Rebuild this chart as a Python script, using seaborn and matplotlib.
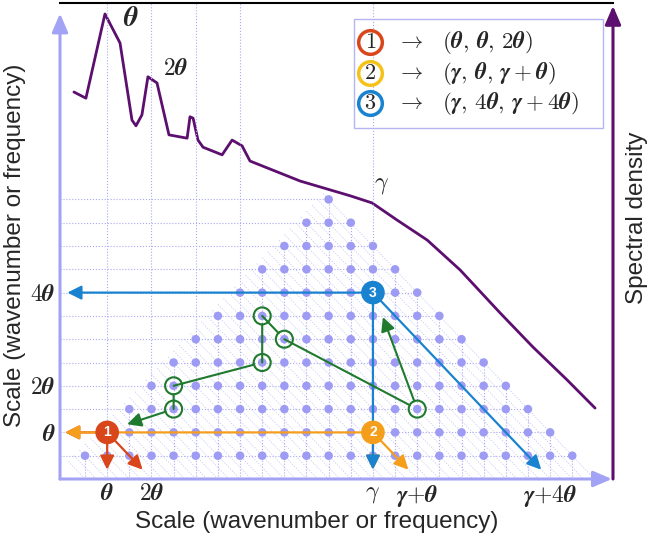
import numpy as np
import pandas as pd
import matplotlib
matplotlib.use("Agg")
import matplotlib.pyplot as plt
from matplotlib.patches import Rectangle
import seaborn as sns

# ---- values ----
# lattice of triads: row j carries dots in columns j .. apex - j
lattice_rows = list(range(1, 13))
lattice_apex = 24

# spectral density (x in scale units, y as fraction of the plot height)
spectrum_scale = [0.50, 1.04, 1.90, 2.58, 3.12, 3.30, 3.57, 3.84, 4.25, 4.79,
                  5.61, 5.74, 5.88, 6.10, 6.33, 7.19, 7.64, 8.09, 8.45, 10.71,
                  12.97, 13.96, 15.09, 16.45, 17.94, 19.74, 21.23, 22.77, 24.03]
spectrum_density = [0.813, 0.800, 0.977, 0.916, 0.754, 0.742, 0.765, 0.845, 0.832, 0.723,
                    0.716, 0.761, 0.758, 0.712, 0.697, 0.681, 0.712, 0.700, 0.668, 0.626,
                    0.595, 0.580, 0.544, 0.502, 0.439, 0.349, 0.277, 0.208, 0.149]

# numbered triads (column, row) and what they stand for
triad_ids = ["1", "2", "3"]
triad_cols = [2, 14, 14]
triad_rows = [2, 2, 8]
triad_colors = ["#d9461c", "#f59e1b", "#1a83d0"]
legend_colors = ["#d9461c", "#f5c21b", "#1a83d0"]
triad_tuples = [r"$(\boldsymbol{\theta},\, \boldsymbol{\theta},\, 2\boldsymbol{\theta})$",
                r"$(\boldsymbol{\gamma},\, \boldsymbol{\theta},\, \boldsymbol{\gamma} + \boldsymbol{\theta})$",
                r"$(\boldsymbol{\gamma},\, 4\boldsymbol{\theta},\, \boldsymbol{\gamma} + 4\boldsymbol{\theta})$"]

# green cascade path through the lattice
path_cols = [16, 10, 9, 9, 5, 5]
path_rows = [3, 6, 7, 5, 4, 3]
path_exit = (2.9, 2.35)
path_jump = (14.45, 6.95)

# tick labels
xtick_pos = [2, 4, 14, 16, 22]
xtick_labels = [r"$\boldsymbol{\theta}$", r"$2\boldsymbol{\theta}$", r"$\gamma$",
                r"$\boldsymbol{\gamma}{+}\boldsymbol{\theta}$", r"$\boldsymbol{\gamma}{+}4\boldsymbol{\theta}$"]
ytick_pos = [2, 4, 8]
ytick_labels = [r"$\boldsymbol{\theta}$", r"$2\boldsymbol{\theta}$", r"$4\boldsymbol{\theta}$"]

# colours
dot_color = "#9d9bf4"
grid_color = "#a9a9f0"
axis_color = "#a3a3f5"
curve_color = "#5c0f6e"
green = "#1f7a2e"

sns.set_theme(style="white")
plt.rcParams["font.family"] = ["Liberation Sans", "DejaVu Sans"]
plt.rcParams["mathtext.fontset"] = "cm"

W, H = 653, 538
fig = plt.figure(figsize=(W / 100, H / 100), dpi=100)
ax = fig.add_axes([60 / W, 59 / H, 553 / W, 476 / H])
ax.set_xlim(-0.13, 24.84)
ax.set_ylim(0, 20.43)
y_top = 20.43

# lattice guide lines
for j in lattice_rows:
    ax.plot([-0.13, lattice_apex - j], [j, j], ls=":", lw=0.8, color=grid_color, zorder=1)
for i in range(1, lattice_apex):
    top = y_top if i in (2, 4, 6, 8, 14) else min(i, lattice_apex - i)
    ax.plot([i, i], [0, top], ls=":", lw=0.8, color=grid_color, zorder=1)
for c in np.arange(1, lattice_apex + 0.01, 0.5):
    ax.plot([(c - 0.5) / 2, c], [(c + 0.5) / 2, 0], ls=(0, (2, 2)), lw=0.5,
            color="#c4c4f5", zorder=1)

lattice = pd.DataFrame([(i, j) for j in lattice_rows for i in range(j, lattice_apex - j + 1)],
                       columns=["scale", "row"])
sns.scatterplot(data=lattice, x="scale", y="row", s=38, color=dot_color,
                edgecolor="none", ax=ax, zorder=2)


def arrow(start, end, color, shrink=0, head=True, lw=1.6):
    style = "-|>,head_length=0.6,head_width=0.3" if head else "-"
    ax.annotate("", xy=end, xytext=start,
                arrowprops=dict(arrowstyle=style, color=color, lw=lw, mutation_scale=14,
                                shrinkA=shrink, shrinkB=0),
                zorder=3)


# triad interaction arrows: to the y axis, down, and along the diagonal
for c, r, col in zip(triad_cols, triad_rows, triad_colors):
    arrow((c, r), (0.1 if r < 8 else 0.2, r), col)
    arrow((c, r), (c, 0.4), col)
    arrow((c, r), (c + r - 0.4, 0.4), col)

# green cascade
for k in range(len(path_cols) - 1):
    arrow((path_cols[k], path_rows[k]), (path_cols[k + 1], path_rows[k + 1]), green,
          shrink=6, head=False, lw=1.5)
arrow((path_cols[-1], path_rows[-1]), path_exit, green, shrink=6, lw=1.5)
arrow((path_cols[0], path_rows[0]), path_jump, green, shrink=6, lw=1.5)
sns.scatterplot(x=path_cols, y=path_rows, s=150, facecolor="none", edgecolor=green,
                linewidth=1.5, ax=ax, zorder=4)

# numbered triads
sns.scatterplot(x=triad_cols, y=triad_rows, hue=triad_ids, palette=triad_colors, s=290,
                edgecolor="none", legend=False, ax=ax, zorder=5)
for c, r, t in zip(triad_cols, triad_rows, triad_ids):
    ax.text(c, r, t, color="white", fontsize=10, fontweight="bold",
            ha="center", va="center", zorder=6)

# spectral density on its own scale
ax2 = ax.twinx()
ax2.set_ylim(0, 1)
sns.lineplot(x=spectrum_scale, y=spectrum_density, color=curve_color, lw=2,
             sort=False, ax=ax2)
ax2.set_yticks([])
for s in ax2.spines.values():
    s.set_visible(False)
ax.set_zorder(2)
ax.patch.set_visible(False)

ax.text(3.05, 19.75, r"$\boldsymbol{\theta}$", fontsize=20, ha="center", va="center")
ax.text(5.1, 17.6, r"$2\boldsymbol{\theta}$", fontsize=17, ha="center", va="center")
ax.text(14.4, 12.6, r"$\gamma$", fontsize=17, ha="center", va="center")

# axes: light purple arrows, black top, purple density axis
for s in ["left", "bottom", "right"]:
    ax.spines[s].set_visible(False)
ax.spines["top"].set_color("black")
ax.spines["top"].set_linewidth(1.5)
ax_arrow = dict(arrowstyle="-|>,head_length=0.7,head_width=0.3", lw=2.2,
                mutation_scale=16, shrinkA=0, shrinkB=0)
ax.annotate("", xy=(0, 0.978), xytext=(0, 0), xycoords="axes fraction",
            arrowprops=dict(color=axis_color, **ax_arrow))
ax.annotate("", xy=(0.998, 0), xytext=(0, 0), xycoords="axes fraction",
            arrowprops=dict(color=axis_color, **ax_arrow))
ax.annotate("", xy=(1, 0.994), xytext=(1, 0), xycoords="axes fraction",
            arrowprops=dict(color=curve_color, **ax_arrow))

ax.set_xticks(xtick_pos, labels=xtick_labels, fontsize=17)
ax.set_yticks(ytick_pos, labels=ytick_labels, fontsize=17)
ax.tick_params(length=0, pad=3)
ax.set_xlabel("")
ax.set_ylabel("")

# legend box
ax.add_patch(Rectangle((0.532, 0.737), 0.45, 0.229, transform=ax.transAxes,
                       fill=False, ec="#b5b5f2", lw=1, zorder=6))
for k, (t, col, lab) in enumerate(zip(triad_ids, legend_colors, triad_tuples)):
    y = [0.918, 0.852, 0.789][k]
    ax.scatter(0.561, y, s=290, facecolor="white", edgecolor=col, linewidth=2.5,
               transform=ax.transAxes, zorder=7)
    ax.text(0.561, y, "$" + t + "$", fontsize=16, ha="center", va="center",
            transform=ax.transAxes, zorder=8)
    ax.text(0.633, y, r"$\rightarrow$", fontsize=16, ha="center", va="center",
            transform=ax.transAxes, zorder=8)
    ax.text(0.691, y, lab, fontsize=16.5, ha="left", va="center",
            transform=ax.transAxes, zorder=8)

fig.text(317 / W, 1 - 522 / H, "Scale (wavenumber or frequency)", fontsize=17.5,
         ha="center", va="center")
fig.text(15 / W, 1 - 245 / H, "Scale (wavenumber or frequency)", fontsize=17.5,
         ha="center", va="center", rotation=90)
fig.text(637 / W, 1 - 218 / H, "Spectral density", fontsize=17.5,
         ha="center", va="center", rotation=90)

fig.savefig("out.png", dpi=100)
